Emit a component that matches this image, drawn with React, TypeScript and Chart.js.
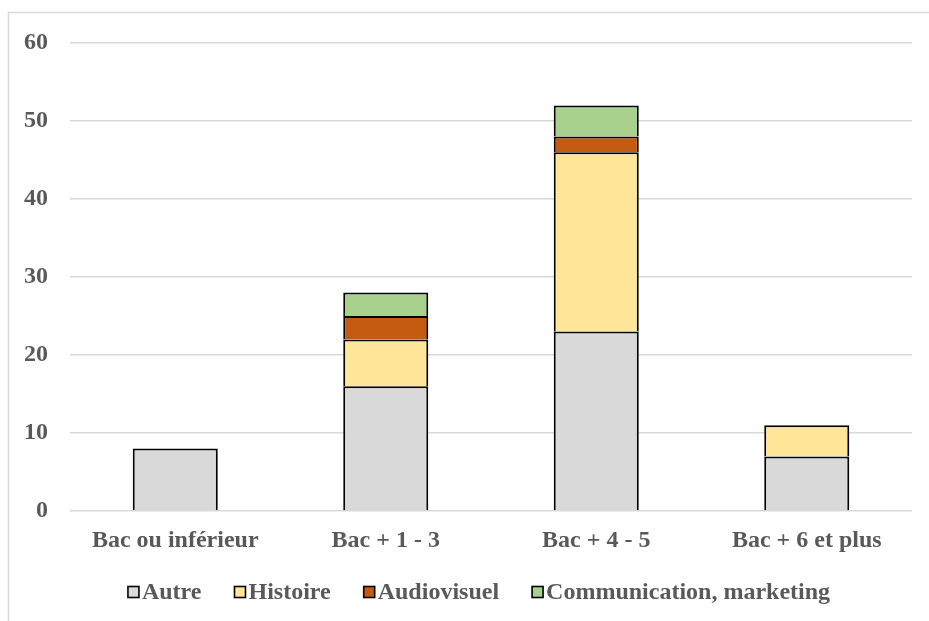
import React, { useEffect, useRef } from "react";
import { Chart, registerables } from "chart.js";

Chart.register(...registerables);

const categories = ["Bac ou inférieur", "Bac + 1 - 3", "Bac + 4 - 5", "Bac + 6 et plus"];
const autre = [8, 16, 23, 7];
const histoire = [0, 6, 23, 4];
const audiovisuel = [0, 3, 2, 0];
const communication = [0, 3, 4, 0];
const seriesNames = ["Autre", "Histoire", "Audiovisuel", "Communication, marketing"];
const seriesColors = ["#d9d9d9", "#ffe699", "#c55a11", "#a9d18e"];
const yTicks = [0, 10, 20, 30, 40, 50, 60];

const FONT = '"Liberation Serif", "Times New Roman", serif';
const TEXT = "#595959";
const GRID = "#d9d9d9";

const framePlugin = {
  id: "frame",
  beforeDraw(chart: any) {
    const ctx = chart.ctx;
    ctx.save();
    ctx.strokeStyle = GRID;
    ctx.lineWidth = 1.5;
    ctx.beginPath();
    ctx.moveTo(8.5, chart.height);
    ctx.lineTo(8.5, 12.5);
    ctx.lineTo(chart.width, 12.5);
    ctx.stroke();
    ctx.restore();
  },
};

const legendPlugin = {
  id: "customLegend",
  afterDraw(chart: any) {
    const ctx = chart.ctx;
    ctx.save();
    ctx.font = `bold 24px ${FONT}`;
    const box = 11;
    const gapText = 3;
    const gapItem = 33;
    const items = chart.data.datasets.map((d: any) => ({
      label: d.label,
      color: d.backgroundColor,
      w: ctx.measureText(d.label).width,
    }));
    const total =
      items.reduce((s: number, it: any) => s + box + gapText + it.w, 0) +
      gapItem * (items.length - 1);
    const center = (chart.chartArea.left + chart.chartArea.right) / 2 - 12;
    let x = center - total / 2;
    const y = 592;
    ctx.textBaseline = "middle";
    ctx.textAlign = "left";
    for (const it of items) {
      ctx.fillStyle = it.color;
      ctx.fillRect(x, y - box / 2, box, box);
      ctx.strokeStyle = "#000";
      ctx.lineWidth = 1.6;
      ctx.strokeRect(x, y - box / 2, box, box);
      ctx.fillStyle = TEXT;
      ctx.fillText(it.label, x + box + gapText, y + 1);
      x += box + gapText + it.w + gapItem;
    }
    ctx.restore();
  },
};

export default function App() {
  const ref = useRef<HTMLCanvasElement | null>(null);
  useEffect(() => {
    if (!ref.current) return;
    const values = [autre, histoire, audiovisuel, communication];
    const chart = new Chart(ref.current, {
      type: "bar",
      data: {
        labels: categories,
        datasets: values.map((v, i) => ({
          label: seriesNames[i],
          data: v,
          backgroundColor: seriesColors[i],
          borderColor: "#000000",
          borderWidth: 2,
          categoryPercentage: 1,
          barPercentage: 0.404,
        })),
      },
      options: {
        responsive: false,
        animation: false,
        events: [],
        layout: { padding: { top: 43, right: 17, left: 0, bottom: 0 } },
        plugins: {
          legend: { display: false },
          tooltip: { enabled: false },
        },
        scales: {
          x: {
            stacked: true,
            grid: { display: false },
            border: { display: false },
            ticks: {
              color: TEXT,
              font: { family: FONT, size: 24, weight: "bold" },
              padding: 7,
              maxRotation: 0,
            },
            afterFit: (s: any) => {
              s.height = 110;
            },
          },
          y: {
            stacked: true,
            min: 0,
            max: 60,
            afterBuildTicks: (s: any) => {
              s.ticks = yTicks.map((v) => ({ value: v }));
            },
            grid: { color: GRID, lineWidth: 1.5, drawTicks: false },
            border: { display: false },
            ticks: {
              color: TEXT,
              font: { family: FONT, size: 24, weight: "bold" },
              padding: 22,
            },
            afterFit: (s: any) => {
              s.width = 70;
            },
          },
        },
      },
      plugins: [framePlugin, legendPlugin],
    });
    return () => chart.destroy();
  }, []);
  return (
    <canvas
      ref={ref}
      width={929}
      height={621}
      style={{ position: "fixed", left: 0, top: 0, width: 929, height: 621 }}
    />
  );
}
